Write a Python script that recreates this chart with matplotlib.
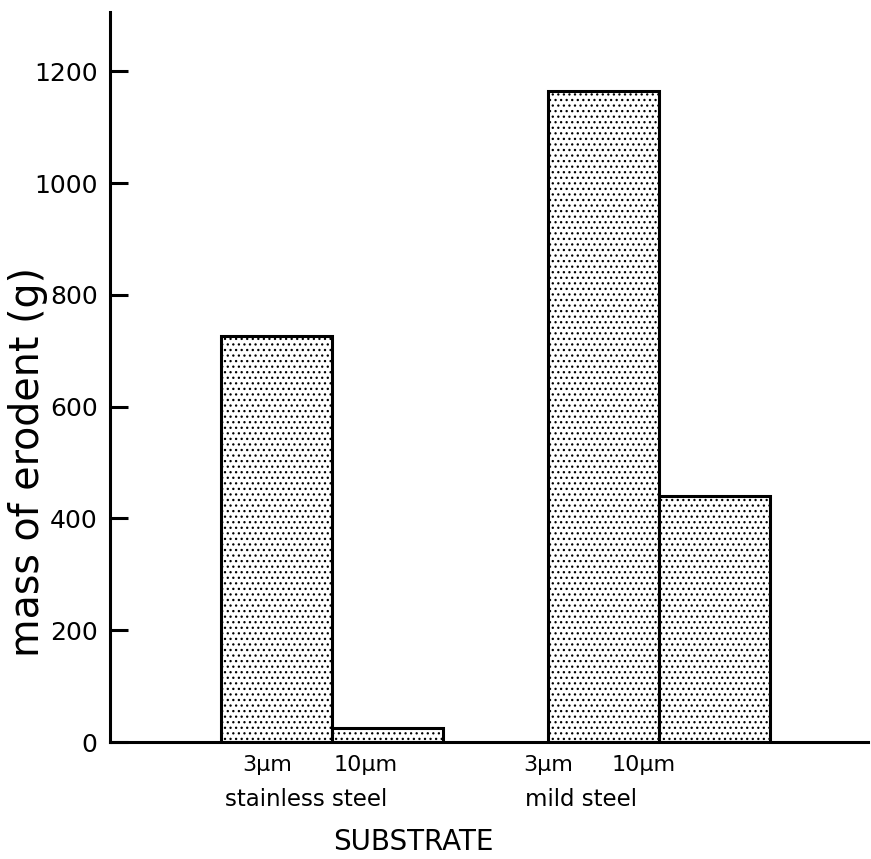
import matplotlib
matplotlib.use("Agg")
import matplotlib.pyplot as plt

plt.rcParams['font.family'] = ['DejaVu Sans']
plt.rcParams['hatch.linewidth'] = 0.9

# data
bar_left = [1.0, 2.0, 3.95, 4.95]
bar_values = [727, 25, 1165, 440]
yticks = [0, 200, 400, 600, 800, 1000, 1200]
size_labels = ["3µm", "10µm", "3µm", "10µm"]
size_label_x = [1.42, 2.30, 3.95, 4.81]
group_labels = ["stainless steel", "mild steel"]
group_label_x = [1.77, 4.24]
xlabel = "SUBSTRATE"
ylabel = "mass of erodent (g)"

fig = plt.figure(figsize=(8.71, 8.59), dpi=100)
ax = fig.add_axes([0.1263, 0.1362, 0.8703, 0.8498])

ax.bar(bar_left, bar_values, width=1.0, align='edge', color='white',
       edgecolor='black', linewidth=2.2, hatch='...', zorder=2)

ax.set_xlim(0, 6.83)
ax.set_ylim(0, 1306)
ax.set_yticks(yticks)
ax.set_yticklabels([str(v) for v in yticks], fontsize=18)
ax.set_xticks([])
ax.tick_params(axis='y', direction='in', length=13, width=2.2, pad=9)

for s in ['top', 'right']:
    ax.spines[s].set_visible(False)
for s in ['left', 'bottom']:
    ax.spines[s].set_linewidth(2.2)

ax.text(-0.108, 0.384, ylabel, transform=ax.transAxes, rotation=90,
        ha='center', va='center', fontsize=28.5)

for t, x in zip(size_labels, size_label_x):
    ax.text(x, -0.0315, t, transform=ax.get_xaxis_transform(), ha='center',
            va='center', fontsize=16)
for t, x in zip(group_labels, group_label_x):
    ax.text(x, -0.079, t, transform=ax.get_xaxis_transform(), ha='center',
            va='center', fontsize=16.5)
ax.text(2.73, -0.137, xlabel, transform=ax.get_xaxis_transform(), ha='center',
        va='center', fontsize=20)

fig.savefig("out.png", dpi=100)
